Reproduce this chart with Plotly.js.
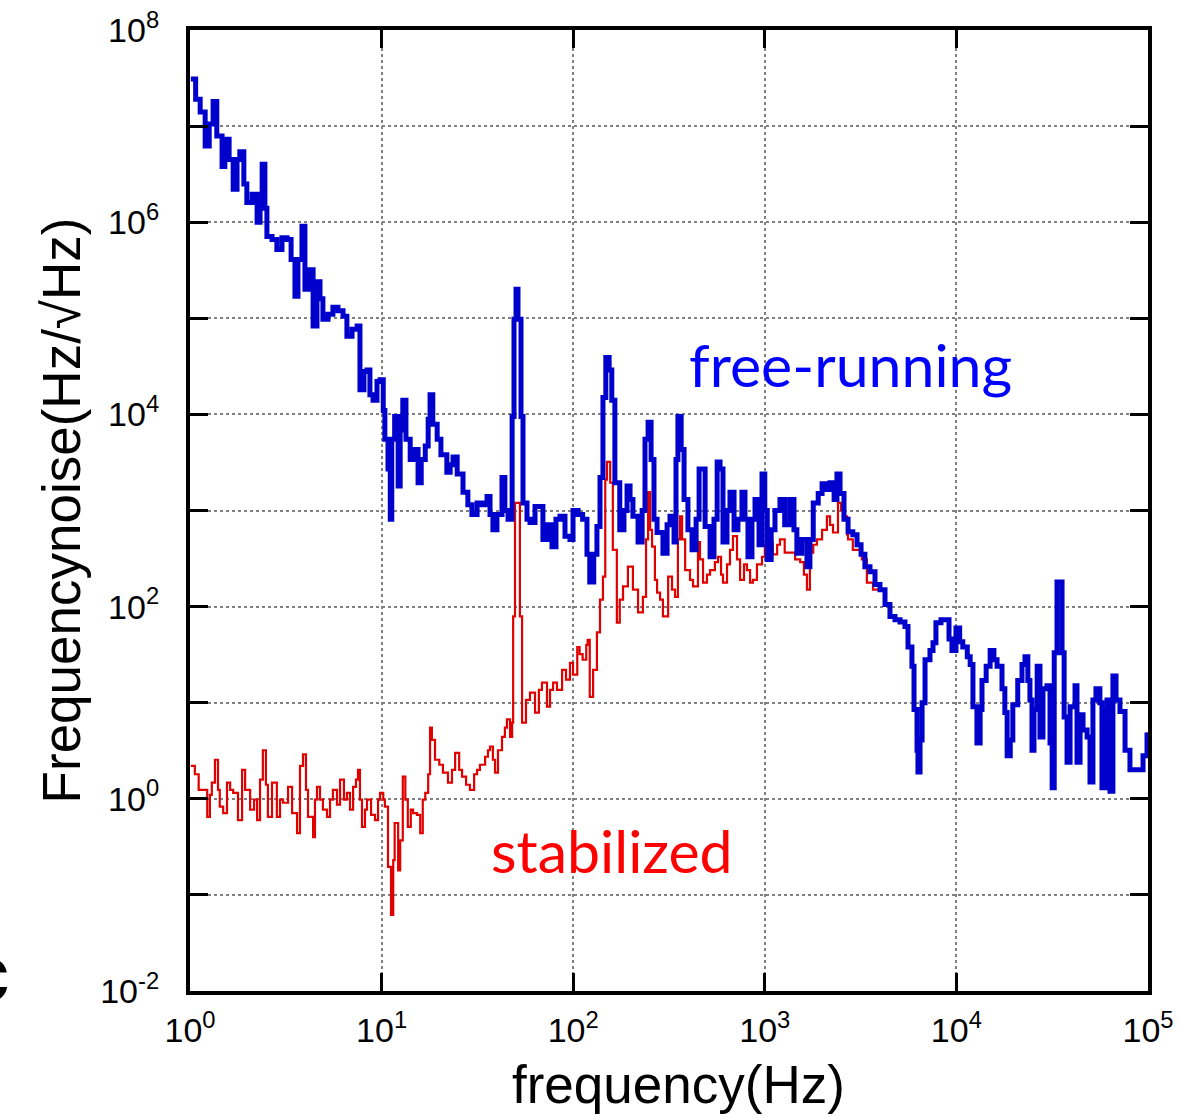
<!DOCTYPE html>
<html>
<head>
<meta charset="utf-8">
<script src="https://cdn.plot.ly/plotly-3.0.1.min.js"></script>
<style>html,body{margin:0;padding:0;background:#fff;}#chart{width:1181px;height:1116px;}</style>
</head>
<body>
<div id="chart"></div>
<script>
// ---- data ----
// free-running (blue) frequency noise spectrum
const freqFree = [
  1.01,1.07,1.13,1.20,1.26,1.32,1.38,1.47,1.52,1.60,
  1.68,1.76,1.82,1.91,1.98,2.11,2.24,2.32,2.38,2.46,
  2.52,2.68,2.84,3.02,3.21,3.37,3.53,3.66,3.84,3.98,
  4.18,4.39,4.60,4.77,4.94,5.25,5.57,5.92,6.29,6.59,
  7.01,7.45,7.71,8.09,8.39,8.69,9.02,9.46,9.81,10.2,
  10.4,10.8,11.1,11.3,11.7,12.2,12.5,12.9,13.4,14.1,
  14.8,15.5,16.1,16.9,17.5,17.9,18.5,19.5,20.4,21.9,
  22.8,23.6,24.8,26.6,28.2,29.6,31.5,33.4,35.5,36.8,
  38.1,40.0,42.5,44.0,45.7,48.0,49.1,50.3,51.5,53.4,
  54.7,57.4,59.5,63.2,67.1,69.5,73.8,77.5,81.3,85.3,
  90.6,96.2,99.8,106,112,118,122,128,133,138,
  143,148,154,159,165,175,184,191,198,205,
  218,229,237,246,255,264,274,294,309,320,
  336,344,352,366,379,397,417,438,454,470,
  488,518,543,564,584,605,635,658,691,724,
  760,788,817,857,889,933,967,1000,1030,1080,
  1130,1200,1270,1350,1420,1470,1560,1660,1720,1790,
  1900,1990,2110,2190,2300,2380,2470,2590,2720,2880,
  3030,3180,3330,3540,3760,3990,4240,4500,4780,5080,
  5390,5590,5860,6010,6230,6300,6460,6620,6860,7280,
  7550,7820,8310,8710,9150,9480,9950,10400,10800,11400,
  11800,12200,12800,13300,13600,14300,15000,15700,16300,17300,
  17900,18400,19100,19700,20900,22000,22800,23600,24200,24800,
  25400,26400,27300,28300,29700,30800,31600,32400,33500,34800,
  35600,36500,37800,39200,41600,42600,44200,45800,48100,49800,
  51600,53500,56100,57500,59600,61100,63300,65600,68100,71400,
  75900,80500,88700,94200,98800
];
const noiseFree = [
  3.1e7,1.9e7,1.4e7,6.2e6,1.05e7,1.8e7,7.9e6,3.8e6,7.3e6,4.5e6,
  2.2e6,4.5e6,5.4e6,2.5e6,1.6e6,1.95e6,1.0e6,1.7e6,4.0e6,1.4e6,
  7.1e5,6.6e5,5.2e5,6.9e5,6.6e5,4.1e5,1.7e5,4.1e5,9.1e5,2.0e5,
  3.2e5,8.3e4,2.4e5,1.6e5,9.8e4,1.1e5,1.3e5,1.2e5,1.05e5,6.5e4,
  7.7e4,8.3e4,1.8e4,2.8e4,2.9e4,1.6e4,1.4e4,2.2e4,2.3e4,1.1e4,
  5.5e3,2.7e3,810,5.5e3,9.5e3,1.8e3,6.9e3,1.4e4,5.5e3,3.4e3,
  4.3e3,1.95e3,3.4e3,4.7e3,8.9e3,1.6e4,7.9e3,5.5e3,3.8e3,2.5e3,
  3.0e3,3.6e3,2.4e3,1.55e3,1.15e3,910,1.2e3,1.15e3,1.4e3,910,
  630,910,2.2e3,1.0e3,810,9.5e3,9.8e4,2.0e5,9.8e4,9.5e3,
  1.2e3,810,750,1.1e3,1.1e3,500,710,420,810,870,
  540,500,1.0e3,910,810,350,180,350,680,2.2e3,
  1.5e4,3.9e4,2.9e4,1.4e4,1.95e3,630,1.0e3,1.8e3,1.3e3,870,
  470,1.0e3,5.5e3,8.3e3,3.4e3,810,590,360,710,870,
  470,3.4e3,9.5e3,4.3e3,1.3e3,630,390,810,2.7e3,2.7e3,
  680,330,810,3.2e3,2.7e3,470,1.0e3,1.55e3,630,810,
  1.55e3,810,330,810,1.3e3,440,2.4e3,1.0e3,310,630,
  1.0e3,1.3e3,710,1.3e3,630,360,500,260,500,1.2e3,
  1.5e3,1.9e3,1.65e3,1.95e3,1.3e3,2.4e3,1.5e3,810,600,560,
  440,350,260,230,170,150,105,79,73,69,
  62,38,24,8.5,3.2,1.9,4.1,10,28,35,
  42,68,73,73,46,35,60,43,38,30,
  25,9.1,3.8,8.5,17,24,35,28,24,14,
  7.9,2.8,4.1,9.5,17,25,30,17,10.7,3.2,
  8.5,24,4.4,14,15,3.8,1.3,33,180,180,
  33,7.1,2.4,9.1,15,2.4,7.5,5.2,4.4,1.5,
  10.7,14,10,1.3,8.5,10.7,1.2,19,10.7,8.1,
  3.2,2.0,2.0,2.8,4.9
];
// stabilized (red) spectrum up to ~3.7 kHz; above that it lies on the free-running curve
const freqStab = [
  1.01,1.06,1.11,1.15,1.23,1.27,1.30,1.35,1.40,1.43,
  1.49,1.56,1.62,1.68,1.78,1.87,1.94,2.06,2.16,2.24,
  2.32,2.40,2.49,2.55,2.68,2.84,2.95,3.06,3.25,3.41,
  3.62,3.75,3.89,4.03,4.13,4.39,4.49,4.60,4.77,4.94,
  5.19,5.38,5.57,5.85,6.07,6.36,6.59,6.84,7.10,7.35,
  7.53,7.71,7.90,8.19,8.39,8.81,9.24,9.58,9.81,10.2,
  10.4,10.8,11.2,11.5,11.7,12.2,12.5,12.9,13.3,13.7,
  14.2,14.6,15.3,15.9,16.4,16.9,17.5,17.9,18.3,19.0,
  20.0,20.9,22.2,23.3,24.2,25.4,26.3,27.6,28.9,30.4,
  31.5,32.6,34.7,35.9,36.8,38.1,39.1,40.5,42.5,44.0,
  45.1,46.8,48.0,48.6,49.7,51.5,52.7,54.1,56.7,59.5,
  63.2,66.2,68.7,73.0,75.7,78.5,82.3,87.5,91.7,96.2,
  99.8,105,108,112,117,119,122,127,133,138,
  143,147,150,156,161,169,175,182,193,205,
  218,231,240,246,252,258,267,274,284,294,
  313,328,340,352,361,370,384,407,422,448,
  459,476,499,518,549,570,591,605,635,658,
  682,716,743,779,807,838,867,910,967,1000,
  1040,1100,1160,1200,1270,1350,1440,1530,1600,1660,
  1720,1790,1870,1990,2110,2190,2270,2410,2500,2560,
  2690,2720,2880,3030,3210,3410,3670
];
const noiseStab = [
  2.2,1.8,1.24,1.24,0.65,1.1,1.47,2.55,1.24,0.83,
  0.71,1.47,1.24,1.15,0.60,2.0,1.24,0.77,0.98,0.60,
  1.58,3.2,1.40,0.65,1.47,0.65,0.98,0.91,1.33,0.71,
  0.44,2.2,2.9,1.24,0.65,0.40,0.98,1.33,0.98,0.77,
  0.65,0.98,1.24,0.87,1.58,0.98,1.15,0.77,1.33,1.58,
  2.0,0.98,0.51,0.77,0.98,0.68,0.60,0.98,1.15,0.98,
  0.83,0.196,0.062,0.23,0.56,0.18,0.37,1.7,0.98,0.51,
  0.77,0.71,0.68,0.44,0.98,1.15,1.8,5.5,4.1,2.55,
  2.26,1.87,1.47,2.0,3.0,2.0,1.7,1.40,1.24,1.8,
  2.0,2.26,2.74,3.2,3.5,2.55,1.87,3.2,4.4,5.5,
  6.7,4.4,6.2,79,1200,1200,79,6.2,10.7,12.7,
  7.9,13.6,16.2,9.1,13.6,16.2,13.6,22,17.4,26,
  19.6,38,32,28,40,45,11.5,22,54,118,
  205,2100,3200,1950,390,68,118,162,260,150,
  87,126,500,1550,630,420,190,140,118,79,
  205,150,126,500,870,500,240,190,162,470,
  310,178,215,240,290,330,215,178,275,390,
  540,310,190,275,240,178,190,275,330,440,
  470,350,440,500,365,365,310,290,215,150,
  365,440,500,630,870,710,590,1200,1000,870,
  560,500,390,390,310,178,150
];
const overlapStart = 185; // index in free-running arrays (3.99 kHz) from which both curves coincide

const xTickVals = [1, 10, 100, 1000, 10000, 100000];
const xTickText = ['10<sup>0</sup>','10<sup>1</sup>','10<sup>2</sup>','10<sup>3</sup>','10<sup>4</sup>','10<sup>5</sup>'];
const yTickVals = [0.01, 0.1, 1, 10, 100, 1000, 10000, 1e5, 1e6, 1e7, 1e8];
const yTickText = ['10<sup>-2</sup>','','10<sup>0</sup>','','10<sup>2</sup>','','10<sup>4</sup>','','10<sup>6</sup>','','10<sup>8</sup>'];

const xTitle = 'frequency(Hz)';
const yTitle = 'Frequencynoise(Hz/√Hz)';
const labelFree = 'free-running';
const labelStab = 'stabilized';
const panelLetter = 'c';

// ---- chart ----
const stabX = freqStab.concat(freqFree.slice(overlapStart));
const stabY = noiseStab.concat(noiseFree.slice(overlapStart));

const traces = [
  {x: stabX, y: stabY, type: 'scatter', mode: 'lines', name: labelStab,
   line: {color: '#e00000', width: 2.2, shape: 'hv'}},
  {x: freqFree, y: noiseFree, type: 'scatter', mode: 'lines', name: labelFree,
   line: {color: '#0000cc', width: 5, shape: 'hv'}}
];

const axisCommon = {
  type: 'log', ticks: 'inside', ticklen: 18, tickwidth: 3, tickcolor: '#000',
  showline: true, linewidth: 4, linecolor: '#000', mirror: 'ticks',
  showgrid: true, gridcolor: '#808080', gridwidth: 2, griddash: 'dot',
  zeroline: false, tickfont: {size: 34, color: '#000'}, tickmode: 'array'
};

const layout = {
  width: 1181, height: 1116,
  margin: {l: 190, r: 33, t: 30, b: 125},
  paper_bgcolor: '#ffffff', plot_bgcolor: '#ffffff',
  showlegend: false,
  font: {family: '"Liberation Sans", Arial, sans-serif', color: '#000'},
  xaxis: Object.assign({}, axisCommon, {
    range: [0, 5], tickvals: xTickVals, ticktext: xTickText, ticklabelstandoff: 6
  }),
  yaxis: Object.assign({}, axisCommon, {
    range: [-2, 8], tickvals: yTickVals, ticktext: yTickText, ticklabelstandoff: 20,
    title: {text: yTitle, font: {size: 53, color: '#000'}, standoff: 4}
  }),
  annotations: [
    {text: xTitle, xref: 'paper', yref: 'paper', x: 0.5104, y: -0.0968, showarrow: false,
     xanchor: 'center', yanchor: 'middle', font: {family: '"Liberation Sans", Arial, sans-serif', size: 53, color: '#000'}},
    {text: labelFree, xref: 'paper', yref: 'paper', x: 0.689, y: 0.652, showarrow: false,
     xanchor: 'center', yanchor: 'middle', font: {family: 'Lato, "Noto Sans", sans-serif', size: 59, color: '#0000ff'}},
    {text: labelStab, xref: 'paper', yref: 'paper', x: 0.4405, y: 0.1466, showarrow: false,
     xanchor: 'center', yanchor: 'middle', font: {family: 'Lato, "Noto Sans", sans-serif', size: 59, color: '#ff0000'}},
    {text: '<b>' + panelLetter + '</b>', xref: 'paper', yref: 'paper', x: -0.186, y: 0.018, showarrow: false,
     xanchor: 'right', yanchor: 'middle', font: {family: '"Liberation Sans", Arial, sans-serif', size: 80, color: '#000'}}
  ]
};

Plotly.newPlot('chart', traces, layout, {staticPlot: true, displayModeBar: false});
</script>
</body>
</html>
